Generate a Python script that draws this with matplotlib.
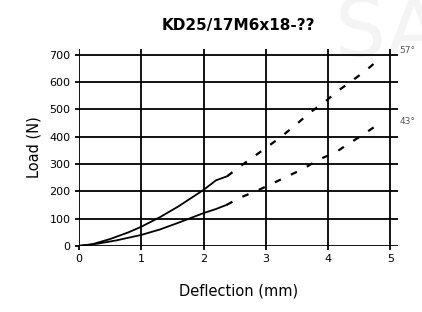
import numpy as np
import matplotlib.pyplot as plt

# 57 deg curve (solid measured part, then dashed extrapolation)
x57_solid = [0.0, 0.2, 0.5, 0.8, 1.0, 1.3, 1.6, 1.8, 2.0, 2.2, 2.38]
y57_solid = [0, 5, 25, 50, 70, 105, 145, 175, 205, 240, 255]
x57_dash = [2.38, 2.58, 3.07, 3.28, 3.5, 3.7, 3.95, 4.14, 4.38, 4.62, 4.85]
y57_dash = [255, 290, 370, 406, 447, 487, 528, 565, 604, 645, 690]

# 43 deg curve
x43_solid = [0.0, 0.3, 0.6, 1.0, 1.3, 1.6, 2.0, 2.2, 2.37]
y43_solid = [0, 8, 20, 40, 60, 85, 120, 135, 150]
x43_dash = [2.37, 2.58, 2.85, 3.12, 3.33, 3.6, 3.84, 4.13, 4.3, 4.56, 4.8]
y43_dash = [150, 176, 201, 230, 253, 282, 315, 344, 370, 407, 445]

xticks = [0, 1, 2, 3, 4, 5]
yticks = [0, 100, 200, 300, 400, 500, 600, 700]

fig = plt.figure(figsize=(4.22, 3.12), dpi=100)
# faint watermark behind everything
fig.text(0.92, 0.89, 'SA', fontsize=58, color='#f4f4f4', ha='center', va='center',
         zorder=-5)
ax = fig.add_axes([0.187, 0.212, 0.756, 0.63])
ax.patch.set_alpha(0)

ax.plot(x57_solid, y57_solid, color='black', lw=1.3)
ax.plot(x57_dash, y57_dash, color='black', lw=1.6, linestyle=(0, (3, 5)))
ax.plot(x43_solid, y43_solid, color='black', lw=1.3)
ax.plot(x43_dash, y43_dash, color='black', lw=1.6, linestyle=(0, (3, 5)))

ax.set_xlim(0, 5.12)
ax.set_ylim(0, 720)
ax.set_xticks(xticks)
ax.set_yticks(yticks)
ax.grid(True, color='black', lw=1.3)
for s in ax.spines.values():
    s.set_visible(False)
ax.tick_params(axis='both', length=3, width=1.3, labelsize=8, pad=3)

ax.set_title('KD25/17M6x18-??', fontsize=11, fontweight='bold', pad=14)
ax.set_xlabel('Deflection (mm)', fontsize=10.5, labelpad=14)
ax.set_ylabel('Load (N)', fontsize=10.5, labelpad=6)

ax.text(5.14, 700, '57°', fontsize=6.5, color='#555555', va='bottom', clip_on=False)
ax.text(5.14, 440, '43°', fontsize=6.5, color='#555555', va='bottom', clip_on=False)

plt.savefig('out.png', dpi=100)
